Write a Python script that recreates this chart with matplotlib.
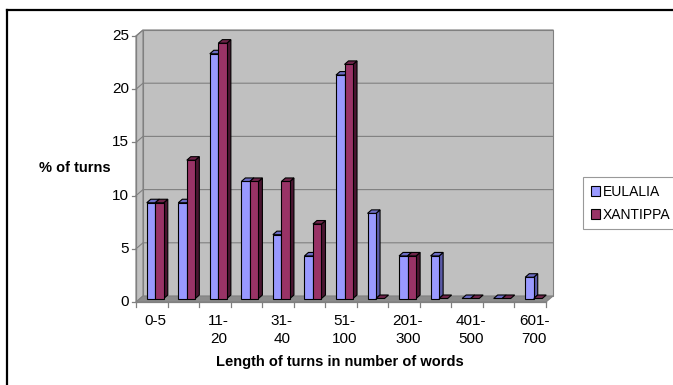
import matplotlib
matplotlib.use('Agg')
import matplotlib.pyplot as plt
from matplotlib.patches import Polygon, Patch
from matplotlib.lines import Line2D

plt.rcParams['font.family'] = ['Liberation Sans', 'DejaVu Sans']

# word-count bins and the share of turns (%) for each speaker
categories = ['0-5', '6-10', '11-20', '21-30', '31-40', '41-50', '51-100',
              '101-200', '201-300', '301-400', '401-500', '501-600', '601-700']
eulalia = [9, 9, 23, 11, 6, 4, 21, 8, 4, 4, 0, 0, 2]
xantippa = [9, 13, 24, 11, 11, 7, 22, 0, 4, 0, 0, 0, 0]
series_names = ['EULALIA', 'XANTIPPA']
y_ticks = [0, 5, 10, 15, 20, 25]

W, H = 673, 385
fig = plt.figure(figsize=(W / 100, H / 100), dpi=100)

# front plane of the 3D box, in pixels
x0, x1 = 136, 546
y0, y1 = 302, 36
ax = fig.add_axes([x0 / W, 1 - y0 / H, (x1 - x0) / W, (y0 - y1) / H])
n = len(categories)
ax.set_xlim(0, n)
ax.set_ylim(0, 25)
ax.axis('off')

px_x = n / (x1 - x0)      # data units per pixel
px_y = 25 / (y0 - y1)
dxw, dyw = 7 * px_x, 6 * px_y   # depth of the box

wall = '#c0c0c0'
edge = '#808080'

def poly(pts, fc, ec=edge, lw=0.8, z=1):
    ax.add_patch(Polygon(pts, closed=True, facecolor=fc, edgecolor=ec,
                         linewidth=lw, zorder=z, clip_on=False))

# back wall, left wall and floor
poly([(dxw, dyw), (n + dxw, dyw), (n + dxw, 25 + dyw), (dxw, 25 + dyw)], wall)
poly([(0, 0), (dxw, dyw), (dxw, 25 + dyw), (0, 25)], wall)
poly([(0, 0), (n, 0), (n + dxw, dyw), (dxw, dyw)], '#8c8c8c')

for t in y_ticks[1:]:
    ax.plot([0, dxw, n + dxw], [t, t + dyw, t + dyw], color=edge, lw=0.8,
            zorder=2, clip_on=False)

# axes lines and ticks
ax.plot([0, 0], [0, 25], color=edge, lw=0.9, zorder=3, clip_on=False)
ax.plot([0, n], [0, 0], color=edge, lw=0.9, zorder=3, clip_on=False)
tick_len_x = 4 * px_x
tick_len_y = 5 * px_y
for t in y_ticks:
    ax.plot([-tick_len_x, 0], [t, t], color=edge, lw=0.9, clip_on=False)
    ax.text(-7 * px_x, t, str(t), ha='right', va='center', fontsize=11)
for i in range(n + 1):
    ax.plot([i, i], [0, -tick_len_y], color=edge, lw=0.9, clip_on=False)
for i in range(0, n, 2):
    lab = categories[i]
    if i > 0:
        lab = lab.replace('-', '-\n')
    ax.text(i + 0.62, -12 * px_y, lab, ha='center', va='top', fontsize=11,
            linespacing=1.35)

# 3D bars
bw = 0.27
sx, sy = 3.5 * px_x, 3.5 * px_y   # bars sit mid-depth
bdx, bdy = 4 * px_x, 3.5 * px_y   # bar depth
colors = [('#9999ff', '#6b6bc4', '#5a5aa8'), ('#993366', '#6e2449', '#4a1530')]
for i in range(n):
    for k, vals in enumerate([eulalia, xantippa]):
        v = vals[i]
        front, top, side = colors[k]
        l = i + 0.23 + k * bw + sx
        r = l + bw
        b = sy
        t = v + sy
        if v > 0:
            poly([(r, b), (r + bdx, b + bdy), (r + bdx, t + bdy), (r, t)],
                 side, ec='black', lw=0.8, z=5)
            poly([(l, b), (r, b), (r, t), (l, t)], front, ec='black', lw=0.8, z=5)
        poly([(l, t), (r, t), (r + bdx, t + bdy), (l + bdx, t + bdy)],
             top, ec='black', lw=0.8, z=5)

fig.text(75 / W, 1 - 168 / H, '% of turns', ha='center', va='center',
         fontsize=10.5, fontweight='bold')
fig.text(340 / W, 1 - 362 / H, 'Length of turns in number of words',
         ha='center', va='center', fontsize=10.5, fontweight='bold')

handles = [Patch(facecolor=colors[k][0], edgecolor='black', linewidth=0.8,
                 label=series_names[k]) for k in range(2)]
leg = fig.legend(handles=handles, loc='upper left',
                 bbox_to_anchor=(583 / W, 1 - 177 / H), fontsize=10,
                 frameon=True, fancybox=False, handlelength=0.7,
                 handleheight=0.7, handletextpad=0.15, borderpad=0.55,
                 borderaxespad=0, labelspacing=0.65)
leg.get_frame().set_edgecolor('#808080')
leg.get_frame().set_linewidth(0.8)

# outer chart border (top and left edges visible)
fig.add_artist(Line2D([7 / W, 1], [1 - 10 / H, 1 - 10 / H], color='black', lw=1.6))
fig.add_artist(Line2D([7 / W, 7 / W], [1 - 10 / H, 0], color='black', lw=1.6))

fig.savefig('out.png', dpi=100)
